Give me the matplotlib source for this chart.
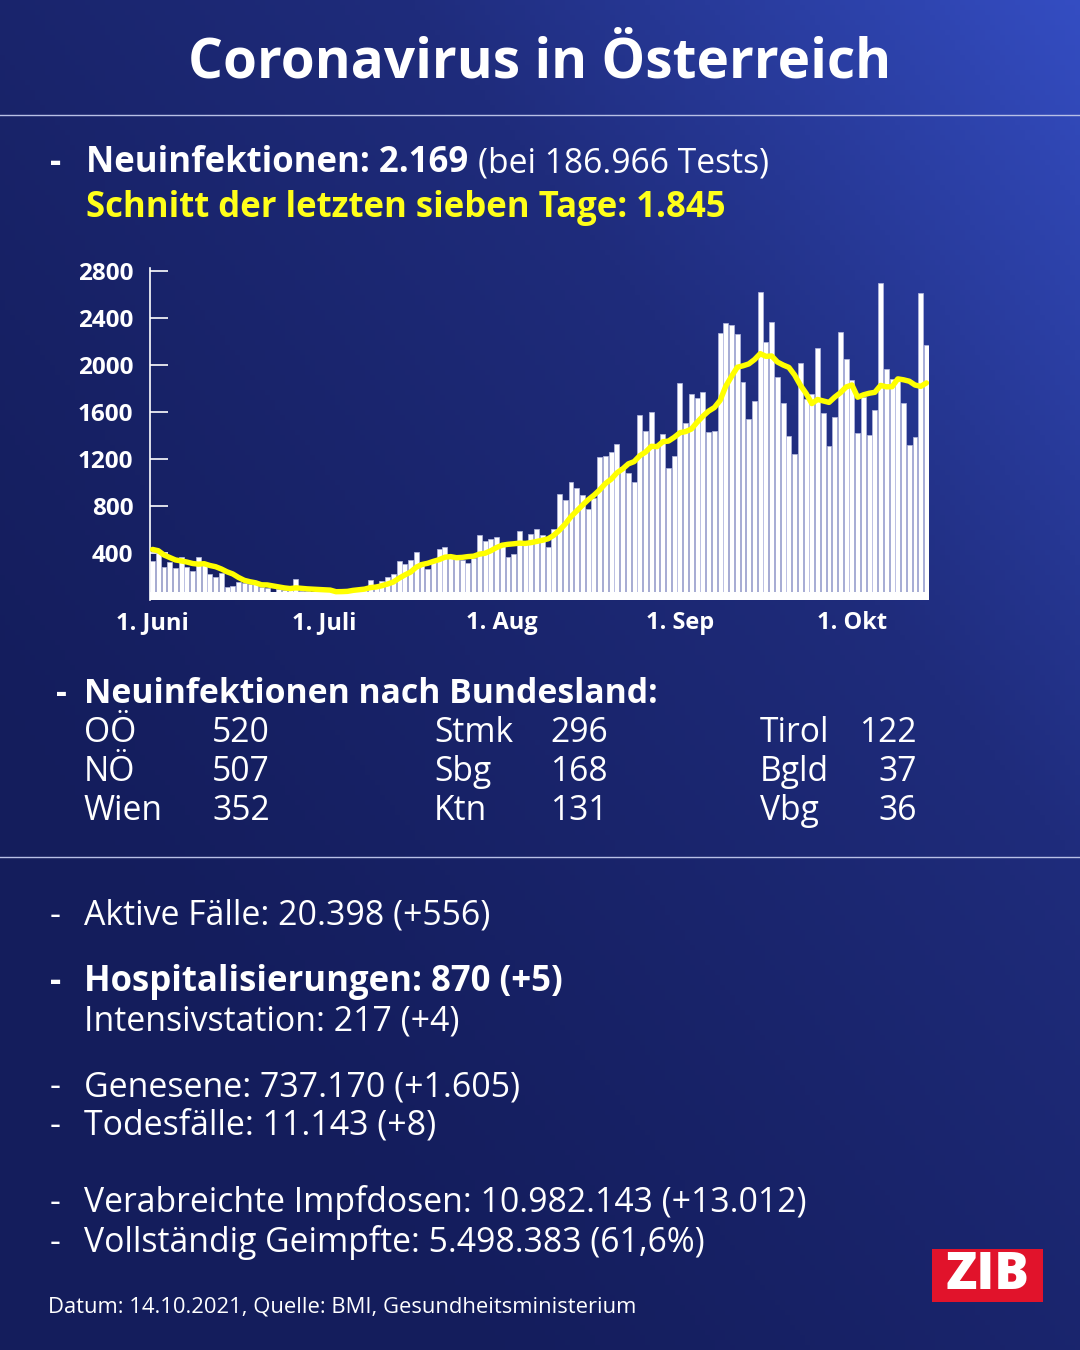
import numpy as np
import matplotlib
matplotlib.use("Agg")
import matplotlib.pyplot as plt
from matplotlib.colors import LinearSegmentedColormap

plt.rcParams['font.family'] = ['Open Sans', 'DejaVu Sans']

# ---------------- data ----------------
tick_labels = ["1. Juni", "1. Juli", "1. Aug", "1. Sep", "1. Okt"]
tick_days = [0, 30, 61, 92, 122]
y_ticks = [400, 800, 1200, 1600, 2000, 2400, 2800]

# last six days of May (needed for the 7-day average at the start)
may_tail = [480, 540, 470, 420, 420, 350]

# daily new infections, 1 June .. 14 October 2021
june = [334, 403, 283, 326, 270, 363, 283, 247, 363, 312,
        219, 198, 227, 113, 119, 155, 142, 134, 134, 110,
        105, 60, 90, 88, 95, 176, 80, 75, 40, 70]
july = [72, 78, 80, 85, 90, 100, 105, 112, 167, 116,
        160, 192, 218, 332, 304, 338, 411, 320, 265, 335,
        432, 451, 372, 346, 338, 312, 360, 552, 505, 519, 539]
august = [480, 363, 391, 591, 488, 566, 608, 553, 450, 601,
          902, 850, 1004, 950, 893, 777, 870, 1220, 1226, 1261,
          1328, 1130, 1078, 1002, 1574, 1441, 1603, 1312, 1417, 1121, 1227]
september = [1847, 1509, 1755, 1718, 1773, 1427, 1438, 2270, 2360, 2340,
             2261, 1858, 1540, 1696, 2624, 2198, 2363, 1901, 1679, 1398,
             1243, 2020, 1708, 1753, 2147, 1589, 1313, 1560, 2284, 2048]
october = [1872, 1418, 1730, 1407, 1617, 2695, 1963, 1878, 1887, 1674,
           1322, 1390, 2615, 2169]

daily = np.array(june + july + august + september + october, dtype=float)
days = np.arange(len(daily))
avg7 = np.convolve(np.r_[may_tail, daily], np.ones(7) / 7, mode="valid")

headline_bold = "Neuinfektionen: 2.169"
headline_reg = "(bei 186.966 Tests)"
headline_avg = "Schnitt der letzten sieben Tage: 1.845"

states_col1 = ["OÖ", "NÖ", "Wien"]
values_col1 = ["520", "507", "352"]
states_col2 = ["Stmk", "Sbg", "Ktn"]
values_col2 = ["296", "168", "131"]
states_col3 = ["Tirol", "Bgld", "Vbg"]
values_col3 = ["122", "37", "36"]

# ---------------- figure ----------------
W, H = 1080, 1350
fig = plt.figure(figsize=(W / 100, H / 100), dpi=100)

# background gradient
bg = fig.add_axes([0, 0, 1, 1], zorder=-10)
yy, xx = np.mgrid[0:1:270j, 0:1:216j]
t = np.clip(0.62 * xx + 0.6 * (1 - yy) - 0.25, 0, 1) ** 1.3
cmap = LinearSegmentedColormap.from_list("bgc", ["#141d5c", "#1f2c7c", "#3650c8"])
bg.imshow(t, cmap=cmap, aspect="auto", extent=[0, 1, 0, 1], origin="upper", vmin=0, vmax=1)
bg.set_xlim(0, 1)
bg.set_ylim(0, 1)
bg.axis("off")

DY = 3  # small vertical offset for text placement


def P(x, y):
    return x / W, 1 - y / H


def txt(x, y, s, size, weight="normal", color="white", ha="left", va="center"):
    fig.text(*P(x, y + DY), s, fontsize=size, fontweight=weight, color=color, ha=ha, va=va)


# title and separators
txt(540, 60, "Coronavirus in Österreich", 39.5, "bold", ha="center")
bg.plot([0, 1], [1 - 115 / H, 1 - 115 / H], color="#b8c0e6", lw=1.0)
bg.plot([0, 1], [1 - 857 / H, 1 - 857 / H], color="#b8c0e6", lw=1.0)

# headline
txt(50, 160, "-", 25, "bold")
txt(86, 160, headline_bold, 25, "bold")
txt(478, 160, headline_reg, 24.2)
txt(86, 205, headline_avg, 25, "bold", color="#ffff1a")

# ---------------- chart ----------------
ax = fig.add_axes([150 / W, 1 - 600 / H, 779 / W, 332 / H])
ax.patch.set_alpha(0)
ax.bar(days, daily, width=0.86, color="white", edgecolor="#b4b9e0", linewidth=0.5, zorder=2)
ax.axhspan(0, 68, color="white", zorder=3, lw=0)
ax.plot(days, avg7, color="#ffff00", lw=3.9, zorder=4, solid_capstyle="round")
ax.set_xlim(-0.44, len(daily) - 0.56)
ax.set_ylim(0, 2826)
ax.set_yticks(y_ticks)
ax.set_yticklabels([str(v) for v in y_ticks], fontsize=17.5, fontweight="bold", color="white")
ax.set_xticks(tick_days)
ax.set_xticklabels(tick_labels, fontsize=17, fontweight="bold", color="white")
ax.tick_params(axis="y", direction="in", length=13, width=1.2, color="white", pad=12)
ax.tick_params(axis="x", length=0, pad=8)
for lbl in ax.get_yticklabels():
    lbl.set_va("center_baseline")
for s in ["top", "right", "bottom"]:
    ax.spines[s].set_visible(False)
ax.spines["left"].set_color("white")
ax.spines["left"].set_linewidth(1.2)

# ---------------- Bundesland table ----------------
txt(56, 691, "-", 24.3, "bold")
txt(84, 691, "Neuinfektionen nach Bundesland:", 24.3, "bold")
rows_y = [730, 769, 808]
for i, y in enumerate(rows_y):
    txt(84, y, states_col1[i], 24.2)
    txt(212, y, values_col1[i], 24.2)
    txt(434, y, states_col2[i], 24.2)
    txt(550, y, values_col2[i], 24.2)
    txt(760, y, states_col3[i], 24.2)
    txt(917, y, values_col3[i], 24.2, ha="right")

# ---------------- lower block ----------------
lines = [
    (913, "Aktive Fälle: 20.398 (+556)", "normal", True, 24.4),
    (979, "Hospitalisierungen: 870 (+5)", "bold", True, 25),
    (1018, "Intensivstation: 217 (+4)", "normal", False, 24.4),
    (1084, "Genesene: 737.170 (+1.605)", "normal", True, 24.4),
    (1123, "Todesfälle: 11.143 (+8)", "normal", True, 24.4),
    (1200, "Verabreichte Impfdosen: 10.982.143 (+13.012)", "normal", True, 24.3),
    (1240, "Vollständig Geimpfte: 5.498.383 (61,6%)", "normal", True, 24.3),
]
for y, s, w, dash, fs in lines:
    if dash:
        txt(50, y, "-", fs, w)
    txt(84, y, s, fs, w)

txt(48, 1304, "Datum: 14.10.2021, Quelle: BMI, Gesundheitsministerium", 15.8)

# ZIB logo
logo = fig.add_axes([932 / W, 1 - 1302 / H, 111 / W, 53 / H])
logo.set_facecolor("#e1132b")
logo.set_xticks([])
logo.set_yticks([])
for s in logo.spines.values():
    s.set_visible(False)
logo.text(0.5, 0.5, "ZIB", fontsize=37, fontweight="heavy", color="white",
          ha="center", va="center", transform=logo.transAxes)

fig.savefig("out.png", dpi=100)
